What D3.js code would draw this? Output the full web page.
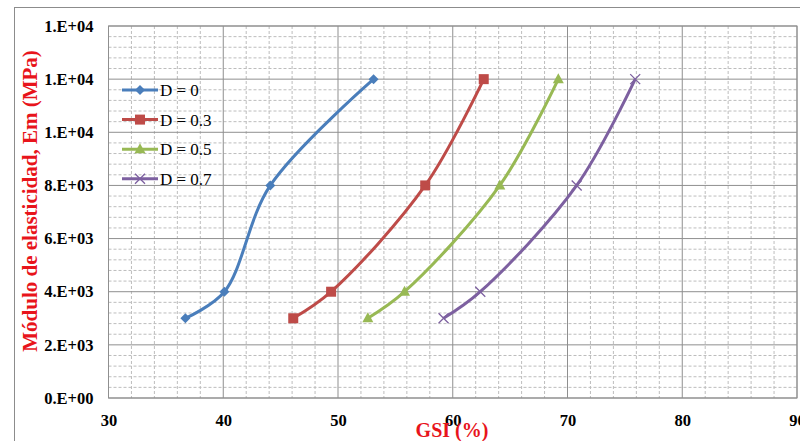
<!DOCTYPE html>
<html><head><meta charset="utf-8">
<script src="https://cdn.jsdelivr.net/npm/d3@7"></script>
<style>html,body{margin:0;padding:0;background:#fff;overflow:hidden}</style>
</head><body>
<svg id="c" width="800" height="441"></svg>
<script>
const seriesNames = ["D = 0", "D = 0.3", "D = 0.5", "D = 0.7"];
const emValues = [3000, 4000, 8000, 12000];
const gsiD0  = [36.7, 40.1, 44.1, 53.1];
const gsiD03 = [46.1, 49.4, 57.6, 62.7];
const gsiD05 = [52.6, 55.8, 64.1, 69.2];
const gsiD07 = [59.2, 62.4, 70.8, 75.9];
const xTicks = [30, 40, 50, 60, 70, 80, 90];
const yTicks = [0, 2000, 4000, 6000, 8000, 10000, 12000, 14000];
const yTickLabels = ["0.E+00","2.E+03","4.E+03","6.E+03","8.E+03","1.E+04","1.E+04","1.E+04"];
const colors = ["#4a7ebb", "#be4b48", "#98b954", "#7d60a0"];
const markers = ["diamond", "square", "triangle", "cross"];

const series = [gsiD0, gsiD03, gsiD05, gsiD07].map((xs, i) => ({
  name: seriesNames[i], color: colors[i], marker: markers[i],
  pts: xs.map((x, j) => ({x, y: emValues[j]}))
}));

const svg = d3.select("#c");
const L = 108.5, R = 797, T = 26, B = 398;
const x = d3.scaleLinear().domain([30, 90]).range([L, R]);
const y = d3.scaleLinear().domain([0, 14000]).range([B, T]);
const serif = "'Liberation Serif','Times New Roman',serif";

// outer chart border
svg.append("rect").attr("x", 14.5).attr("y", 7.5).attr("width", 800).attr("height", 460)
  .attr("fill", "none").attr("stroke", "#8c8c8c").attr("stroke-width", 1);

// minor grid
const g = svg.append("g");
d3.range(30, 90.01, 2).forEach(v => {
  if (v % 10 !== 0) g.append("line").attr("x1", x(v)).attr("x2", x(v)).attr("y1", T).attr("y2", B)
    .attr("stroke", "#bdbdbd").attr("stroke-dasharray", "3,2").attr("stroke-width", 1);
});
d3.range(0, 14001, 400).forEach(v => {
  if (v % 2000 !== 0) g.append("line").attr("x1", L).attr("x2", R).attr("y1", y(v)).attr("y2", y(v))
    .attr("stroke", "#bdbdbd").attr("stroke-dasharray", "3,2").attr("stroke-width", 1);
});
// major grid
xTicks.forEach(v => g.append("line").attr("x1", x(v)).attr("x2", x(v)).attr("y1", T).attr("y2", B)
  .attr("stroke", "#8f8f8f").attr("stroke-width", 1));
yTicks.forEach(v => g.append("line").attr("x1", L).attr("x2", R).attr("y1", y(v)).attr("y2", y(v))
  .attr("stroke", "#8f8f8f").attr("stroke-width", 1));
svg.append("rect").attr("x", L).attr("y", T).attr("width", R - L).attr("height", B - T)
  .attr("fill", "none").attr("stroke", "#8f8f8f");

// axes (labels only)
const xAxis = svg.append("g").attr("transform", `translate(0,${B})`)
  .call(d3.axisBottom(x).tickValues(xTicks).tickSize(0).tickPadding(16).tickFormat(d3.format("d")));
xAxis.select(".domain").remove();
xAxis.selectAll("text").attr("font-family", serif).attr("font-weight", "bold").attr("font-size", 16.5).attr("fill", "#000");

const yAxis = svg.append("g").attr("transform", `translate(${L},0)`)
  .call(d3.axisLeft(y).tickValues(yTicks).tickSize(0).tickPadding(15).tickFormat((d, i) => yTickLabels[i]));
yAxis.select(".domain").remove();
yAxis.selectAll("text").attr("font-family", serif).attr("font-weight", "bold").attr("font-size", 16.5).attr("fill", "#000");

// titles
svg.append("text").attr("x", 452).attr("y", 437).attr("text-anchor", "middle")
  .attr("font-family", serif).attr("font-weight", "bold").attr("font-size", 20).attr("fill", "#e8141b")
  .text("GSI (%)");
svg.append("text").attr("transform", "translate(37,201) rotate(-90)").attr("text-anchor", "middle")
  .attr("font-family", serif).attr("font-weight", "bold").attr("font-size", 21).attr("fill", "#e8141b")
  .text("Módulo de elasticidad, Em (MPa)");

// marker drawing
function drawMarker(sel, type, cx, cy, color) {
  if (type === "diamond") {
    sel.append("path").attr("d", `M${cx},${cy-5}L${cx+5},${cy}L${cx},${cy+5}L${cx-5},${cy}Z`).attr("fill", color);
  } else if (type === "square") {
    sel.append("rect").attr("x", cx - 5).attr("y", cy - 5).attr("width", 10).attr("height", 10).attr("fill", color);
  } else if (type === "triangle") {
    sel.append("path").attr("d", `M${cx},${cy-6}L${cx+5.5},${cy+4}L${cx-5.5},${cy+4}Z`).attr("fill", color);
  } else {
    sel.append("path").attr("d", `M${cx-5},${cy-5}L${cx+5},${cy+5}M${cx+5},${cy-5}L${cx-5},${cy+5}`)
      .attr("stroke", color).attr("stroke-width", 1.3).attr("fill", "none");
  }
}

const line = d3.line().x(d => x(d.x)).y(d => y(d.y)).curve(d3.curveCatmullRom.alpha(0.5));
series.forEach(s => {
  const sg = svg.append("g");
  sg.append("path").attr("d", line(s.pts)).attr("fill", "none").attr("stroke", s.color).attr("stroke-width", 3);
  s.pts.forEach(p => drawMarker(sg, s.marker, x(p.x), y(p.y), s.color));
});

// legend
series.forEach((s, i) => {
  const ly = 90 + i * 29.6;
  const lg = svg.append("g");
  lg.append("line").attr("x1", 122).attr("x2", 158).attr("y1", ly).attr("y2", ly)
    .attr("stroke", s.color).attr("stroke-width", 3);
  drawMarker(lg, s.marker, 140, ly, s.color);
  lg.append("text").attr("x", 160).attr("y", ly + 6).attr("font-family", serif)
    .attr("font-size", 17).attr("fill", "#000").text(s.name);
});
</script>
</body></html>
